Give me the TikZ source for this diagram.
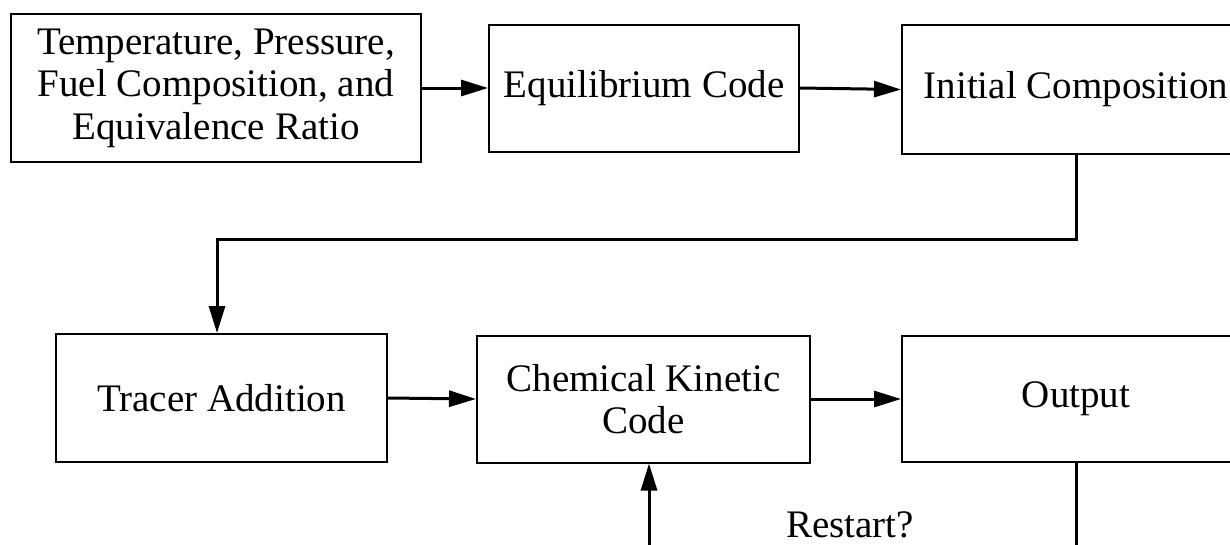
\documentclass[tikz,border=0pt]{standalone}
\usepackage{fontspec}
\setmainfont{Liberation Serif}
\usetikzlibrary{arrows.meta}
\begin{document}
\begin{tikzpicture}[x=1pt,y=-1pt,
  box/.style={draw, line width=2pt, align=center, inner sep=0pt,
    font=\fontsize{39}{42.5}\selectfont},
  conn/.style={line width=3pt},
  arr/.style={conn, -{Triangle[length=27pt,width=16pt]}},
  lbl/.style={font=\fontsize{39}{42.5}\selectfont, inner sep=0pt}]
\useasboundingbox (0,0) rectangle (1230,544);
\clip (0,0) rectangle (1230,544);
\node[box, minimum width=410pt, minimum height=148pt] (b1) at (216,88)
  {Temperature, Pressure,\\Fuel Composition, and\\Equivalence Ratio};
\node[box, minimum width=310pt, minimum height=127pt] (b2) at (644,88) {Equilibrium Code};
\node[box, minimum width=348pt, minimum height=129pt] (b3) at (1076,89.5) {Initial Composition};
\node[box, minimum width=331pt, minimum height=128pt] (b4) at (221.5,398) {Tracer Addition};
\node[box, minimum width=333pt, minimum height=127pt] (b5) at (643.5,399) {Chemical Kinetic\\Code};
\node[box, minimum width=348pt, minimum height=126pt] (b6) at (1076,399) {Output};
\coordinate (bend) at (1076,239);
\coordinate (lo) at (649,560);
\coordinate (ro) at (1076,560);
\draw[arr] (b1.east) -- (b2.west);
\draw[arr] (b2.east) -- (b3.west);
\draw[arr] (b3.south) -- (bend) -- ++(-859,0) -- ([xshift=-4.5pt]b4.north);
\draw[arr] (b4.east) -- (b5.west);
\draw[arr] (b5.east) -- (b6.west);
\draw[arr] (lo) -- ([xshift=5.5pt]b5.south);
\draw[conn] (b6.south) -- (ro);
\node[lbl, anchor=base] (rs) at (850,537) {Restart?};
\end{tikzpicture}
\end{document}
